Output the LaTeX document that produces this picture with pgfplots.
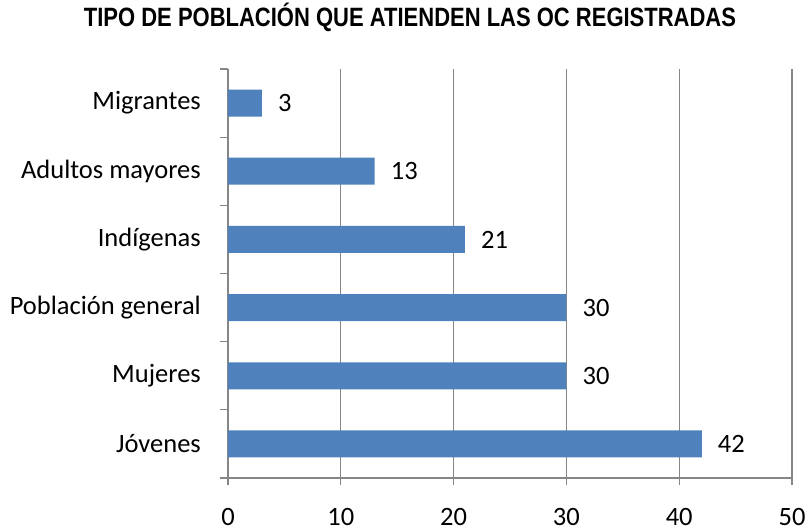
\documentclass[border=0pt]{standalone}
\usepackage{fontspec}
\usepackage{pgfplots}
\pgfplotsset{compat=1.18}
\setmainfont{Carlito}
\newfontfamily\titlefont[FakeStretch=0.83]{Liberation Sans}
\definecolor{barblue}{HTML}{4F81BD}
\definecolor{axisgray}{HTML}{868686}
\newcommand{\labfont}{\fontsize{26.5bp}{32bp}\selectfont}

\begin{document}
\begin{tikzpicture}
\useasboundingbox (-228bp,-53bp) rectangle (581bp,478bp);
\begin{axis}[
  at={(0,0)}, anchor=south west,
  scale only axis,
  width=564bp, height=409bp,
  xbar, bar width=27bp,
  xmin=0, xmax=50, ymin=-0.5, ymax=5.5,
  xtick={0,10,...,50},
  ytick={0,...,5},
  yticklabels={Jóvenes, Mujeres, Población general, Indígenas, Adultos mayores, Migrantes},
  minor ytick={-0.5,0.5,...,5.5},
  axis lines*=left,
  axis line style={axisgray, line width=1.3bp},
  xmajorgrids,
  major grid style={axisgray, line width=1.2bp},
  tick align=center,
  major tick length=14bp, minor tick length=8bp,
  major x tick style={axisgray, line width=1.2bp},
  major y tick style={draw=none},
  minor y tick style={axisgray, line width=1.2bp, xshift=-4bp},
  /pgf/number format/assume math mode=true,
  tick label style={font=\labfont, text=black},
  xticklabel style={inner sep=0pt, anchor=north, yshift=-23bp},
  yticklabel style={inner sep=0pt, anchor=east, xshift=-20bp},
  nodes near coords,
  nodes near coords style={font=\labfont, anchor=west, inner sep=0pt, xshift=16bp, text=black},
  title={TIPO DE POBLACIÓN QUE ATIENDEN LAS OC REGISTRADAS},
  title style={font=\titlefont\bfseries\fontsize{26.5bp}{30bp}\selectfont,
    at={(axis description cs:0.3227,1)}, anchor=base, yshift=37bp, inner sep=0pt},
]
\addplot[fill=barblue, draw=none] coordinates {(42,0) (30,1) (30,2) (21,3) (13,4) (3,5)};
\end{axis}
\end{tikzpicture}
\end{document}
